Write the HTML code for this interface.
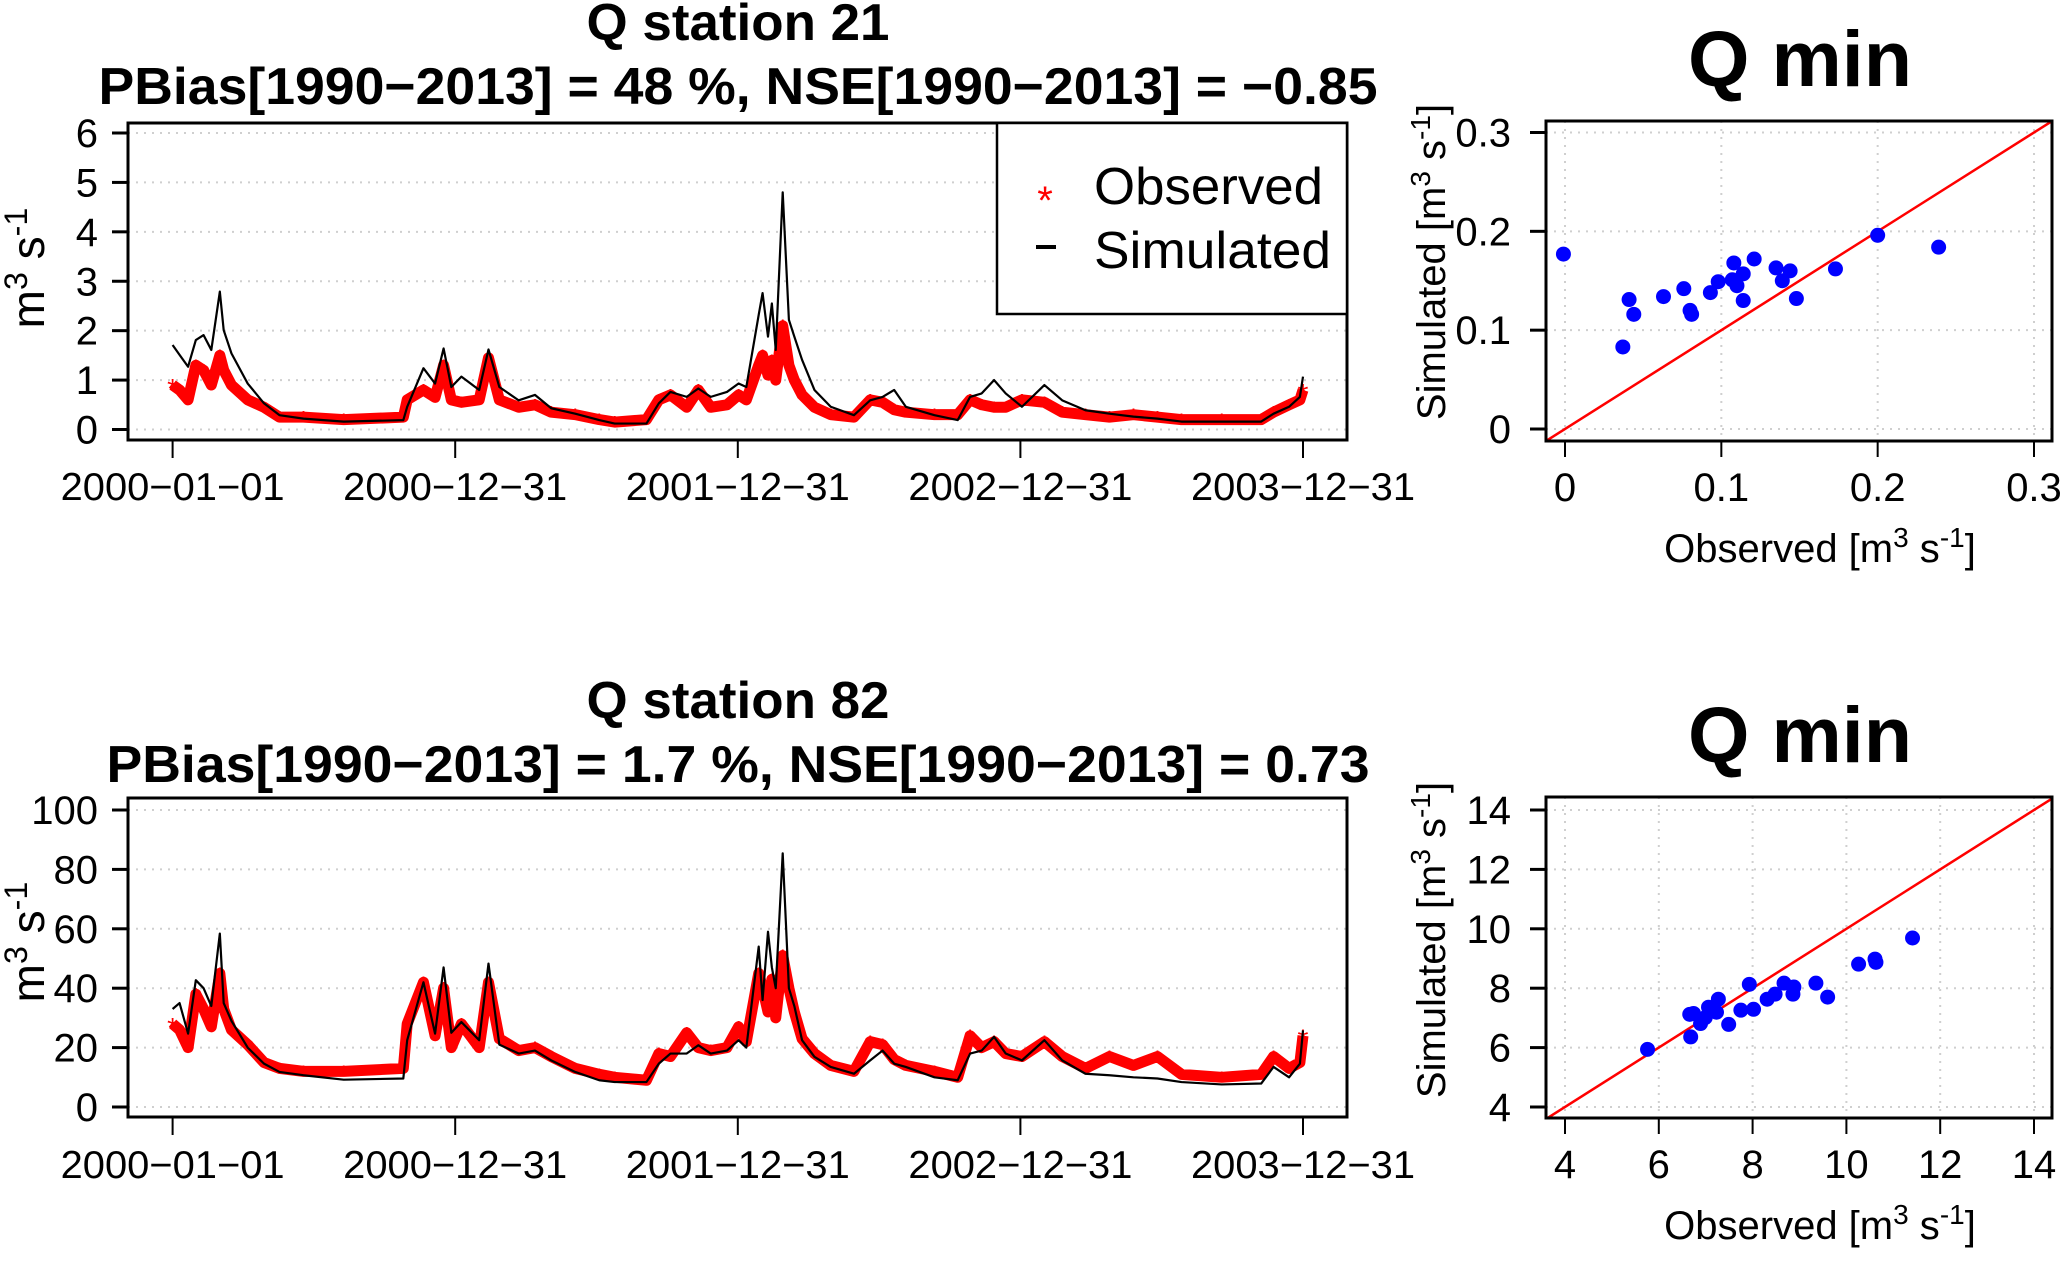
<!DOCTYPE html>
<html><head><meta charset="utf-8"><style>
html,body{margin:0;background:#fff;overflow:hidden;width:2066px;height:1261px}
svg{display:block;font-family:"Liberation Sans",Arial,sans-serif}
</style></head><body>
<svg id="chart" width="2066" height="1261" viewBox="0 0 2066 1261" xmlns="http://www.w3.org/2000/svg">
<g id="g"></g>
</svg>
<script>
// ---- time-series data (day index since 2000-01-01) ----
const days = [0,9,20,30,40,50,61,66,76,97,118,138,169,221,298,303,324,339,350,360,373,396,408,422,447,468,489,520,551,571,612,628,643,664,679,695,716,731,741,757,762,769,774,779,788,796,803,813,829,850,880,901,917,932,947,984,1014,1030,1045,1061,1076,1097,1126,1149,1179,1210,1241,1272,1303,1355,1406,1422,1442,1456,1460];
const sim21 = [1.71,1.51,1.27,1.81,1.91,1.61,2.79,2.01,1.54,0.93,0.53,0.29,0.22,0.16,0.19,0.46,1.24,0.93,1.64,0.86,1.07,0.80,1.62,0.86,0.59,0.70,0.43,0.32,0.19,0.12,0.12,0.53,0.76,0.66,0.83,0.66,0.76,0.93,0.86,2.32,2.76,1.88,2.55,1.61,4.80,2.22,1.88,1.41,0.80,0.46,0.29,0.59,0.66,0.80,0.46,0.29,0.19,0.66,0.73,1.00,0.73,0.46,0.90,0.59,0.39,0.32,0.26,0.22,0.16,0.16,0.16,0.32,0.46,0.66,1.07];
const obs21 = [0.9,0.8,0.6,1.3,1.2,0.9,1.5,1.2,0.9,0.6,0.45,0.25,0.25,0.2,0.25,0.6,0.8,0.65,1.3,0.6,0.55,0.6,1.45,0.6,0.45,0.5,0.35,0.3,0.2,0.15,0.2,0.6,0.7,0.45,0.8,0.45,0.5,0.7,0.6,1.3,1.5,1.1,1.4,1.0,2.1,1.3,1.0,0.7,0.45,0.3,0.25,0.6,0.55,0.4,0.35,0.3,0.3,0.6,0.5,0.45,0.45,0.6,0.55,0.35,0.3,0.25,0.3,0.25,0.2,0.2,0.2,0.35,0.5,0.6,0.8];
const sim82 = [33,35,24.7,42.7,40,34,58.4,35,29,20,14.6,11.8,10.7,9.2,9.6,22.5,42,24.7,47,25,28.6,22.5,48.3,21,18,19,15.7,11.8,9,8.4,8.4,14.6,18,18,20.8,18,19,22.5,20,54,36,59,47,40,85.4,40,34,22.5,16.9,13.5,11.2,15.7,19,14.6,13.5,10,9,18,19,23.6,18,15.7,22.5,15.7,11.2,10.7,10,9.6,8.4,7.6,7.9,13.5,10,14.6,25.8];
const obs82 = [28,26,20,38,33,27,45,33,26,21,15,13,12,12,13,28,42,24,40,20,28,20,42,23,19,20,17,13,11,10,9,18,17,25,20,19,20,27,22,45,40,32,43,30,51,40,32,23,18,14,12,22,21,16,14,12,10,24,20,22,18,17,22,17,13,17,14,17,11,10,11,17,13,15,24];
const dateTicks = [0,365,730,1095,1460];
const dateLabels = ["2000\u221201\u221201","2000\u221212\u221231","2001\u221212\u221231","2002\u221212\u221231","2003\u221212\u221231"];
const yTicks21 = [0,1,2,3,4,5,6];
const yTicks82 = [0,20,40,60,80,100];
// ---- scatter data (Q min) ----
const qminObs21 = [-0.001,0.037,0.041,0.044,0.063,0.076,0.080,0.081,0.093,0.098,0.108,0.107,0.110,0.114,0.114,0.121,0.135,0.139,0.144,0.148,0.173,0.200,0.239];
const qminSim21 = [0.177,0.083,0.131,0.116,0.134,0.142,0.120,0.116,0.138,0.149,0.168,0.151,0.145,0.157,0.130,0.172,0.163,0.150,0.160,0.132,0.162,0.196,0.184];
const qminObs82 = [5.76,6.68,6.66,6.74,6.89,6.99,7.06,7.23,7.27,7.49,7.75,7.93,8.02,8.31,8.48,8.67,8.86,8.88,9.35,9.60,10.26,10.61,10.63,11.41];
const qminSim82 = [5.94,6.36,7.12,7.15,6.81,7.01,7.36,7.19,7.63,6.78,7.26,8.13,7.29,7.63,7.80,8.17,7.80,8.04,8.17,7.70,8.81,8.98,8.87,9.69];
const sTicks21 = [0,0.1,0.2,0.3];
const sLabels21 = ["0","0.1","0.2","0.3"];
const sTicks82 = [4,6,8,10,12,14];

const NS="http://www.w3.org/2000/svg";
const root=document.getElementById('g');
function mk(tag,attrs,parent){const e=document.createElementNS(NS,tag);for(const k in attrs)e.setAttribute(k,attrs[k]);(parent||root).appendChild(e);return e;}
function txt(s,attrs,parent){const e=mk('text',attrs,parent);e.textContent=s;return e;}

function supLabel(parent,x,y,pre,rot,size,anchor){
  const t=mk('text',{x:x,y:y,'font-size':size,'text-anchor':anchor||'middle',transform:rot?`rotate(-90 ${x} ${y})`:''},parent);
  const d=Math.round(size*0.38);
  t.innerHTML=`${pre}m<tspan dy="-${d}" font-size="${size*0.7}">3</tspan><tspan dy="${d}">  s</tspan><tspan dy="-${d}" font-size="${size*0.7}">-1</tspan><tspan dy="${d}">${pre?']':''}</tspan>`;
  t.setAttribute('xml:space','preserve');
  return t;
}

function tsPanel(o){
  const g=mk('g',{});
  
  
  const X=d=>172.6+d*(1303-172.6)/1460;
  const Y=v=>o.y0-(v-o.ymin)*o.ppu;
  o.yt.forEach(v=>{const l=mk('line',{x1:o.bx0,x2:o.bx1,y1:Y(v),y2:Y(v),stroke:'#cfcfcf','stroke-width':2,'stroke-dasharray':'2 6'},g);
    });
  const obsG=mk('g',{},g);
  
  mk('polyline',{points:days.map((d,i)=>X(d)+','+Y(o.obs[i])).join(' '),fill:'none',stroke:'#ff0000','stroke-width':11,'stroke-linejoin':'round'},obsG);
  days.forEach((d,i)=>{const s=txt('*',{x:X(d),y:Y(o.obs[i])+13,'font-size':28,fill:'#ff0000','text-anchor':'middle'},obsG);
    });
  const sl=mk('polyline',{points:days.map((d,i)=>X(d)+','+Y(o.sim[i])).join(' '),fill:'none',stroke:'#000','stroke-width':2.2,'stroke-linejoin':'round'},g);
  
  const b=mk('rect',{x:o.bx0,y:o.by0,width:o.bx1-o.bx0,height:o.by1-o.by0,fill:'none',stroke:'#000','stroke-width':3},g);
  
  o.yt.forEach(v=>{mk('line',{x1:112,x2:128,y1:Y(v),y2:Y(v),stroke:'#000','stroke-width':3},g);
    const t=txt(String(v),{x:98,y:Y(v)+14,'font-size':40,'text-anchor':'end'},g);
    });
  dateTicks.forEach((d,i)=>{mk('line',{x1:X(d),x2:X(d),y1:o.by1,y2:o.by1+18,stroke:'#000','stroke-width':2},g);
    const t=txt(dateLabels[i],{x:X(d),y:o.xlab,'font-size':39,'text-anchor':'middle',textLength:224,lengthAdjust:'spacingAndGlyphs'},g);
    });
  const yl=supLabel(g,44,o.ylc,'',true,46);
  
  const t1=txt(o.t1,{x:738,y:o.t1y,'font-size':52,'font-weight':'bold','text-anchor':'middle',textLength:303,lengthAdjust:'spacingAndGlyphs'},g);
  
  const t2=txt(o.t2,{x:o.t2x,y:o.t2y,'font-size':52,'font-weight':'bold','text-anchor':'middle',textLength:o.t2w,lengthAdjust:'spacingAndGlyphs'},g);
  
}

tsPanel({name:'station-21-timeseries',sim:sim21,obs:obs21,yt:yTicks21,ymin:0,y0:429.5,ppu:(429.5-133)/6,
  bx0:128,bx1:1347,by0:123,by1:440,xlab:500,ylc:268,t1:'Q station 21',t1y:40,
  t2:'PBias[1990\u22122013] = 48 %, NSE[1990\u22122013] = \u22120.85',t2x:738,t2y:104,t2w:1279});
tsPanel({name:'station-82-timeseries',sim:sim82,obs:obs82,yt:yTicks82,ymin:0,y0:1107,ppu:(1107-810)/100,
  bx0:128,bx1:1347,by0:798,by1:1117,xlab:1178,ylc:942,t1:'Q station 82',t1y:718,
  t2:'PBias[1990\u22122013] = 1.7 %, NSE[1990\u22122013] = 0.73',t2x:738,t2y:782,t2w:1263});

(function(){
  const g=mk('g',{});
  
  mk('rect',{x:997,y:123,width:350,height:191,fill:'#fff',stroke:'#000','stroke-width':2.5},g);
  const s=txt('*',{x:1045,y:214,'font-size':40,fill:'#ff0000','text-anchor':'middle'},g);
  
  const a=txt('Observed',{x:1094,y:204,'font-size':52,textLength:229,lengthAdjust:'spacingAndGlyphs'},g);
  
  const l=mk('line',{x1:1036,x2:1056,y1:247,y2:247,stroke:'#000','stroke-width':4},g);
  
  const b=txt('Simulated',{x:1094,y:268,'font-size':52,textLength:237,lengthAdjust:'spacingAndGlyphs'},g);
  
})();

function scatter(o){
  const g=mk('g',{});
  
  const X=v=>1565+(v-o.min)*o.pux, Y=v=>o.y0-(v-o.min)*o.puy;
  const cid='clip'+o.name;
  const cp=mk('clipPath',{id:cid},g);mk('rect',{x:1546,y:o.by0,width:506,height:o.by1-o.by0},cp);
  o.ticks.forEach(v=>{
    mk('line',{x1:1546,x2:2052,y1:Y(v),y2:Y(v),stroke:'#cfcfcf','stroke-width':2,'stroke-dasharray':'2 6'},g);
    mk('line',{x1:X(v),x2:X(v),y1:o.by0,y2:o.by1,stroke:'#cfcfcf','stroke-width':2,'stroke-dasharray':'2 6'},g);
  });
  const dl=mk('line',{x1:X(o.min-1),y1:Y(o.min-1),x2:X(o.min+o.span*2),y2:Y(o.min+o.span*2),stroke:'#ff0000','stroke-width':2.5,'clip-path':`url(#${cid})`},g);
  
  o.xs.forEach((v,i)=>{const c=mk('circle',{cx:X(v),cy:Y(o.ys[i]),r:7.5,fill:'#0000ff'},g);
    });
  const b=mk('rect',{x:1546,y:o.by0,width:506,height:o.by1-o.by0,fill:'none',stroke:'#000','stroke-width':3},g);
  
  o.ticks.forEach((v,i)=>{
    mk('line',{x1:1530,x2:1546,y1:Y(v),y2:Y(v),stroke:'#000','stroke-width':3},g);
    const ty=txt(o.labels[i],{x:1511,y:Y(v)+14,'font-size':40,'text-anchor':'end'},g);
    
    mk('line',{x1:X(v),x2:X(v),y1:o.by1,y2:o.by1+16,stroke:'#000','stroke-width':2},g);
    const tx=txt(o.labels[i],{x:X(v),y:o.by1+60,'font-size':40,'text-anchor':'middle'},g);
    
  });
  const xt=supLabel(g,1820,o.by1+121,'Observed [',false,40);
  
  const yt=supLabel(g,1445,o.ylc,'Simulated [',true,40);
  
  const t=txt('Q min',{x:1800,y:o.ty,'font-size':79,'font-weight':'bold','text-anchor':'middle',textLength:224,lengthAdjust:'spacingAndGlyphs'},g);
  
}
scatter({name:'qmin-scatter-21',xs:qminObs21,ys:qminSim21,ticks:sTicks21,labels:sLabels21,min:0,span:0.3,
  pux:(2034-1565)/0.3,puy:(429-132.5)/0.3,y0:429,by0:121,by1:441,ylc:262,ty:86});
scatter({name:'qmin-scatter-82',xs:qminObs82,ys:qminSim82,ticks:sTicks82,labels:sTicks82.map(String),min:4,span:10,
  pux:(2034-1565)/10,puy:(1107-810)/10,y0:1107,by0:797,by1:1118,ylc:940,ty:762});
</script>
</body></html>
